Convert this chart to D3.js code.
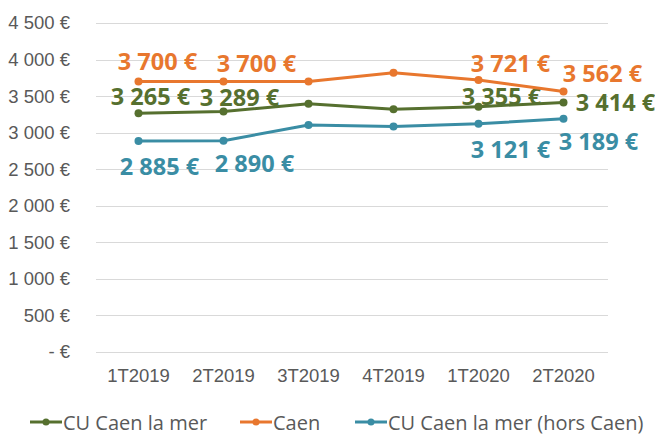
<!DOCTYPE html>
<html>
<head>
<meta charset="utf-8">
<script src="https://cdn.jsdelivr.net/npm/d3@7"></script>
<style>
  body { margin: 0; background: #fff; }
  svg { display: block; font-family: "Open Sans", sans-serif; }
  .grid line { stroke: #d9d9d9; stroke-width: 1; }
  .axis text { fill: #595959; }
</style>
</head>
<body>
<svg id="chart" width="655" height="435"></svg>
<script>

// trimestres
var quarters = ["1T2019", "2T2019", "3T2019", "4T2019", "1T2020", "2T2020"];

// valeurs par trimestre
var cuCaen    = [3265, 3289, 3395, 3320, 3355, 3414];
var caen      = [3700, 3700, 3700, 3820, 3721, 3562];
var horsCaen  = [2885, 2890, 3105, 3085, 3121, 3189];

var yTicks = [0, 500, 1000, 1500, 2000, 2500, 3000, 3500, 4000, 4500];

var seriesNames  = ["CU Caen la mer", "Caen", "CU Caen la mer (hors Caen)"];
var seriesColors = ["#56702f", "#e8772e", "#3a8da4"];

// quels points ont une etiquette (index du trimestre) + decalage de l'etiquette
var labelsCu    = [[0, 12, -17], [1, 16, -15], [4, 23, -11], [5, 52, 0]];
var labelsCaen  = [[0, 19, -20], [1, 33, -18], [4, 32, -17], [5, 39, -19]];
var labelsHors  = [[0, 21, 25], [1, 31, 22], [4, 32, 25], [5, 35, 22]];


var svg = d3.select("#chart");

var x = d3.scaleBand().domain(quarters).range([96, 606]);
var y = d3.scaleLinear().domain([0, 4500]).range([352, 23]);

function euro(v) {
	if (v == 0) return "- €";
	var s = d3.format(",")(v).replace(/,/g, "\u00a0");
	return s + " €";
}

// grille horizontale
svg.append("g")
	.attr("class", "grid")
	.selectAll("line")
	.data(yTicks)
	.join("line")
	.attr("x1", 96).attr("x2", 608)
	.attr("y1", function (d) { return Math.round(y(d)) + 0.5; })
	.attr("y2", function (d) { return Math.round(y(d)) + 0.5; });

// axe y
var yAxis = d3.axisLeft(y).tickValues(yTicks).tickSize(0).tickPadding(0).tickFormat(euro);
var gy = svg.append("g").attr("class", "axis").attr("transform", "translate(70,0)").call(yAxis);
gy.select(".domain").remove();
gy.selectAll("text").attr("font-size", "18.5px");

// axe x
var xAxis = d3.axisBottom(x).tickSize(0).tickPadding(0);
var gx = svg.append("g").attr("class", "axis").attr("transform", "translate(0,369)").call(xAxis);
gx.select(".domain").remove();
gx.selectAll("text").attr("font-size", "18.5px");

var cx = function (i) { return x(quarters[i]) + x.bandwidth() / 2; };

var allSeries = [cuCaen, caen, horsCaen];
var allLabels = [labelsCu, labelsCaen, labelsHors];

var line = d3.line()
	.x(function (d, i) { return cx(i); })
	.y(function (d) { return y(d); });

allSeries.forEach(function (vals, s) {
	var col = seriesColors[s];
	svg.append("path")
		.datum(vals)
		.attr("fill", "none")
		.attr("stroke", col)
		.attr("stroke-width", 3)
		.attr("stroke-linejoin", "round")
		.attr("d", line);

	svg.append("g").selectAll("circle")
		.data(vals)
		.join("circle")
		.attr("cx", function (d, i) { return cx(i); })
		.attr("cy", function (d) { return y(d); })
		.attr("r", 4)
		.attr("fill", col);

	svg.append("g").selectAll("text")
		.data(allLabels[s])
		.join("text")
		.attr("x", function (l) { return cx(l[0]) + l[1]; })
		.attr("y", function (l) { return y(vals[l[0]]) + l[2]; })
		.attr("text-anchor", "middle")
		.attr("dominant-baseline", "central")
		.attr("font-size", "23.5px")
		.attr("font-weight", "bold")
		.attr("fill", col)
		.text(function (l) { return euro(vals[l[0]]); });
});

// legende
var legX = [30, 240, 355];
var leg = svg.append("g").selectAll("g")
	.data(seriesNames)
	.join("g")
	.attr("transform", function (d, i) { return "translate(" + legX[i] + ",422)"; });

leg.append("line")
	.attr("x1", 0).attr("x2", 32)
	.attr("stroke", function (d, i) { return seriesColors[i]; })
	.attr("stroke-width", 3);
leg.append("circle")
	.attr("cx", 16).attr("r", 3.5)
	.attr("fill", function (d, i) { return seriesColors[i]; });
leg.append("text")
	.attr("x", 33)
	.attr("dominant-baseline", "central")
	.attr("font-size", "20px")
	.attr("fill", "#595959")
	.text(function (d) { return d; });

</script>
</body>
</html>
